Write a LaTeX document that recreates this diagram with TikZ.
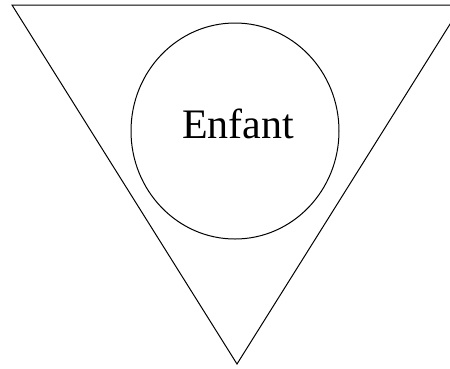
\documentclass[tikz,border=0pt]{standalone}
\usepackage{fontspec}
\setmainfont{Liberation Serif}
\begin{document}
\begin{tikzpicture}[x=1pt,y=-1pt,line width=1pt,
  shapeline/.style={draw=black,line join=miter},
  label/.style={font=\fontsize{42}{46}\selectfont,inner sep=0pt,anchor=base}]
\useasboundingbox (0,0) rectangle (450,368);
\begin{scope}
\clip (0,0) rectangle (450,368);
\coordinate (tl) at (12,5);
\coordinate (tr) at (462,5);
\coordinate (bt) at (237,364);
\draw[shapeline] (tl) -- (tr) -- (bt) -- cycle;
\end{scope}
\draw[shapeline] (235,131) ellipse [x radius=104, y radius=108];
\node[label] (enfant) at (238,138) {Enfant};
\end{tikzpicture}
\end{document}
